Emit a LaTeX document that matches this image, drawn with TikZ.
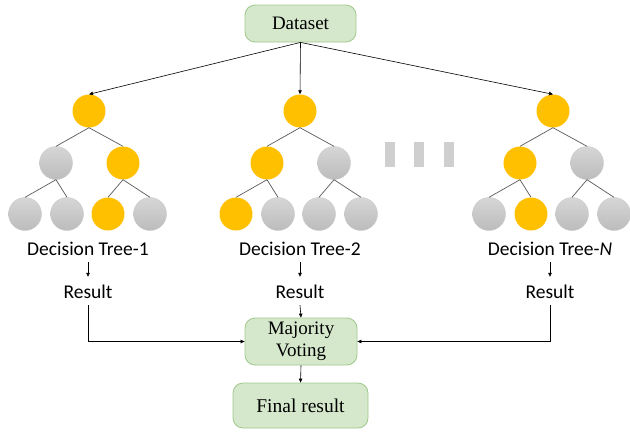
\documentclass[tikz,border=0pt]{standalone}
\usepackage{fontspec}
\setmainfont{Liberation Serif}
\newfontfamily\labelfont{Carlito}
\usetikzlibrary{arrows.meta}
\definecolor{boxfill}{RGB}{213,232,204}
\definecolor{boxline}{RGB}{160,200,140}
\definecolor{leafyellow}{RGB}{255,192,0}
\definecolor{leafgraytop}{RGB}{214,214,214}
\definecolor{leafgraybot}{RGB}{188,188,188}
\definecolor{leafgrayline}{RGB}{200,200,200}
\definecolor{edgegray}{RGB}{90,90,90}
\definecolor{dotgray}{RGB}{207,207,207}

% one decision tree: name prefix, root x, styles of the two inner and four leaf nodes
\newcommand\growtree[8]{%
  \node[#3] (#1r) at (#2,111) {};
  \node[#4] (#1a) at ({#2-33},163) {};
  \node[#5] (#1b) at ({#2+34},163) {};
  \node[#6] (#1c) at ({#2-64},214) {};
  \node[#7] (#1d) at ({#2-22},214) {};
  \node[#8] (#1e) at ({#2+19},214) {};
  \node[cold] (#1f) at ({#2+61},214) {};
  \draw[branch] (#1r.south) -- (#1a.north);
  \draw[branch] (#1r.south) -- (#1b.north);
  \draw[branch] (#1a.south) -- (#1c.north);
  \draw[branch] (#1a.south) -- (#1d.north);
  \draw[branch] (#1b.south) -- (#1e.north);
  \draw[branch] (#1b.south) -- (#1f.north);
}

\begin{document}
\begin{tikzpicture}[x=1pt,y=-1pt,
  stagebox/.style={draw=boxline, fill=boxfill, rounded corners=10pt, line width=0.8pt,
    font=\fontsize{19}{22}\selectfont, align=center, inner sep=0pt},
  hot/.style={circle, fill=leafyellow, minimum size=33pt, inner sep=0pt},
  cold/.style={circle, top color=leafgraytop, bottom color=leafgraybot, draw=leafgrayline,
    line width=0.4pt, minimum size=33pt, inner sep=0pt},
  branch/.style={draw=edgegray, line width=0.7pt},
  flow/.style={draw=black, line width=0.6pt, -{Triangle[length=4pt,width=3.5pt]}},
  caption/.style={font=\labelfont\fontsize{19.5}{22}\selectfont, text height=14pt,
    text depth=0pt, inner xsep=0pt, inner ysep=7pt},
  gapbar/.style={fill=dotgray, minimum width=10pt, minimum height=25pt, inner sep=0pt},
]
\useasboundingbox (0,0) rectangle (630,432);

\node[stagebox, minimum width=111pt, minimum height=37pt] (data) at (300.5,23.5) {Dataset};

\growtree{t1}{89}{hot}{cold}{hot}{cold}{cold}{hot}
\growtree{t2}{300}{hot}{hot}{cold}{hot}{cold}{cold}
\growtree{t3}{553}{hot}{hot}{cold}{cold}{hot}{cold}

\node[gapbar] (gap1) at (390,154.5) {};
\node[gapbar] (gap2) at (419,154.5) {};
\node[gapbar] (gap3) at (449,154.5) {};

\draw[flow] (data.south) -- (t1r.north);
\draw[flow] (data.south) -- (t2r.north);
\draw[flow] (data.south) -- (t3r.north);

\node[caption] (lab1) at (88,248) {Decision Tree-1};
\node[caption] (lab2) at (300,248) {Decision Tree-2};
\node[caption] (lab3) at (550,248) {Decision Tree-\textit{N}};

\node[caption] (res1) at (88,291) {Result};
\node[caption] (res2) at (300,291) {Result};
\node[caption] (res3) at (550,291) {Result};

\draw[flow] (lab1.south) -- (res1.north);
\draw[flow] (lab2.south) -- (res2.north);
\draw[flow] (lab3.south) -- (res3.north);

\node[stagebox, minimum width=112pt, minimum height=47pt] (vote) at (301,341.5) {Majority\\Voting};
\node[stagebox, minimum width=135pt, minimum height=45pt, font=\fontsize{19.5}{22}\selectfont] (final) at (300.5,405.5) {Final result};

\draw[flow] (res1.south) |- (vote.west);
\draw[flow] (res3.south) |- (vote.east);
\draw[flow] (res2.south) -- (vote.north);
\draw[flow] (vote.south) -- (final.north);
\end{tikzpicture}
\end{document}
